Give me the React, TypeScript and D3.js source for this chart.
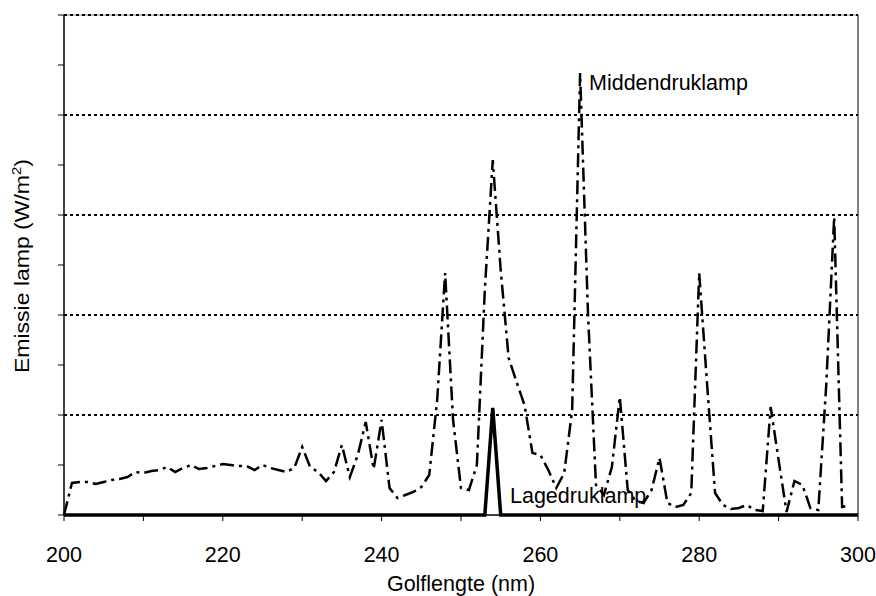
import React from 'react';
import * as d3 from 'd3';

// wavelength (nm) and emission readings
const wavelengths = d3.range(200, 301);
const middendruk = [
  0, 6.4, 6.6, 6.6, 6.2, 6.6, 7.0, 7.2, 7.6, 8.6,
  8.4, 8.8, 9.0, 9.6, 8.6, 9.4, 10.0, 9.2, 9.4, 9.8,
  10.2, 10.0, 9.8, 9.8, 9.0, 10.0, 9.4, 9.0, 8.6, 9.4,
  13.6, 9.6, 8.6, 6.8, 8.6, 14.0, 7.6, 12.0, 18.6, 9.2,
  19.0, 5.4, 3.4, 4.0, 4.6, 5.6, 8.0, 23.0, 48.4, 19.0,
  5.4, 5.0, 10.0, 45.0, 71.0, 49.0, 31.4, 26.6, 22.0, 12.4,
  12.0, 9.0, 5.4, 8.4, 21.0, 88.4, 40.0, 6.0, 4.0, 9.6,
  23.6, 5.0, 2.8, 2.4, 5.0, 11.4, 2.4, 1.6, 2.0, 4.4,
  48.4, 26.0, 4.4, 2.0, 1.2, 1.4, 2.0, 1.0, 0.8, 21.6,
  11.0, 0.6, 6.8, 6.0, 1.4, 1.0, 26.0, 59.6, 1.6, 2.0,
];
const lagedruk = wavelengths.map(w => (w === 254 ? 21.4 : 0));
const xTicks = [200, 210, 220, 230, 240, 250, 260, 270, 280, 290, 300];
const xLabels = [200, 220, 240, 260, 280, 300];
const yTicks = [0, 10, 20, 30, 40, 50, 60, 70, 80, 90, 100];
const yGrid = [20, 40, 60, 80, 100];

const App = () => {
  const left = 64, right = 858, top = 15, bottom = 515;

  const x = d3.scaleLinear().domain([200, 300]).range([left, right]);
  const y = d3.scaleLinear().domain([0, 100]).range([bottom, top]);

  const midData = middendruk.map((v, i) => [wavelengths[i], v] as [number, number]);
  const lageData = lagedruk.map((v, i) => [wavelengths[i], v] as [number, number]);

  const line = d3.line<[number, number]>()
    .x(d => x(d[0]))
    .y(d => y(d[1]));

  const font = 'Arial, "Liberation Sans", sans-serif';
  const fs = 21.5;

  return (
    <svg width={876} height={596} style={{ position: 'absolute', left: 0, top: 0, background: '#fff' }}
      fontFamily={font}>
      {/* top and right frame */}
      <line x1={left} x2={right} y1={top} y2={top} stroke="#888" strokeWidth={1} />
      <line x1={right} x2={right} y1={top} y2={bottom} stroke="#000" strokeWidth={1} />

      {/* dotted gridlines */}
      {yGrid.map(v => (
        <line key={v} x1={left} x2={right} y1={y(v)} y2={y(v)}
          stroke="#000" strokeWidth={2} strokeDasharray="3,3" />
      ))}

      {/* y axis */}
      <line x1={left} x2={left} y1={top} y2={bottom} stroke="#000" strokeWidth={1.5} />
      {yTicks.map(v => (
        <line key={v} x1={left - 6} x2={left} y1={y(v)} y2={y(v)} stroke="#000" strokeWidth={1} />
      ))}

      {/* x axis */}
      <line x1={left} x2={right} y1={bottom} y2={bottom} stroke="#000" strokeWidth={1.5} />
      {xTicks.map(v => (
        <line key={v} x1={x(v)} x2={x(v)} y1={bottom} y2={bottom + 6} stroke="#000" strokeWidth={1} />
      ))}
      {xLabels.map(v => (
        <text key={v} x={x(v)} y={562} textAnchor="middle" fontSize={fs} fill="#000">{v}</text>
      ))}

      {/* series */}
      <path d={line(midData) || ''} fill="none" stroke="#000" strokeWidth={2.5}
        strokeDasharray="14,5,3,5" strokeLinejoin="miter" />
      <path d={line(lageData) || ''} fill="none" stroke="#000" strokeWidth={3.5}
        strokeLinejoin="miter" />

      {/* series labels */}
      <text x={589} y={90} fontSize={fs} fill="#000">Middendruklamp</text>
      <text x={510} y={503} fontSize={fs} fill="#000">Lagedruklamp</text>

      {/* axis titles */}
      <text x={461} y={591} textAnchor="middle" fontSize={fs} fill="#000">Golflengte (nm)</text>
      <text transform={`translate(29,266) rotate(-90) scale(1.15,1)`} textAnchor="middle"
        fontSize={20} fill="#000">
        Emissie lamp (W/m<tspan dy={-8} fontSize={13}>2</tspan><tspan dy={8}>)</tspan>
      </text>
    </svg>
  );
};

export default App;
